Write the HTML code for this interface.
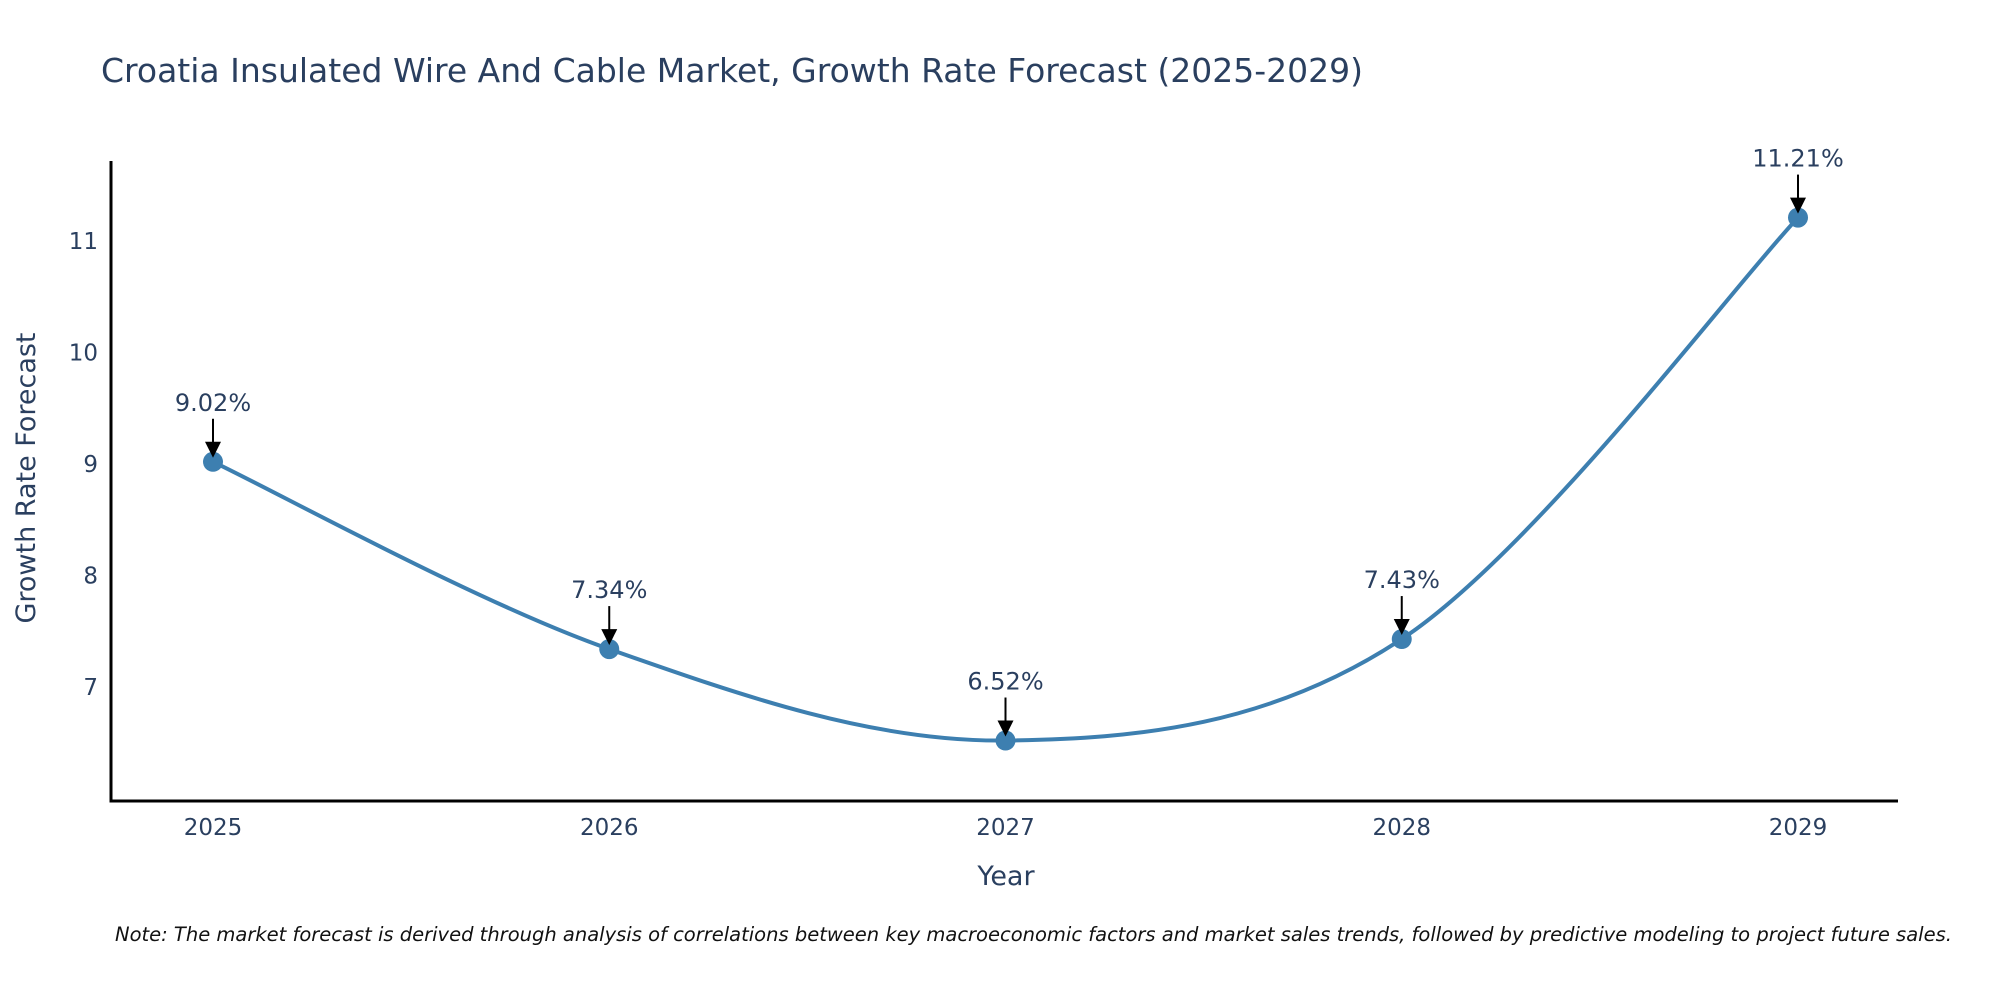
<!DOCTYPE html>
<html><head><meta charset="utf-8"><style>
html,body{margin:0;padding:0;background:#fff;}
svg{display:block;font-family:"DejaVu Sans","Liberation Sans",sans-serif;}
</style></head><body>
<svg id="chart" width="2000" height="1000" viewBox="0 0 2000 1000" xmlns="http://www.w3.org/2000/svg">
<text x="101" y="82" font-size="33" fill="#2a3f5f">Croatia Insulated Wire And Cable Market, Growth Rate Forecast (2025-2029)</text>
<g id="plot"></g>
<text x="1006" y="885" font-size="27" fill="#2a3f5f" text-anchor="middle">Year</text>
<text transform="translate(35,478) rotate(-90)" font-size="27" fill="#2a3f5f" text-anchor="middle">Growth Rate Forecast</text>
<text x="115" y="941" font-size="19.5" font-style="italic" fill="#111">Note: The market forecast is derived through analysis of correlations between key macroeconomic factors and market sales trends, followed by predictive modeling to project future sales.</text>
</svg>
<script>
const years = [2025, 2026, 2027, 2028, 2029];
const growth = [9.02, 7.34, 6.52, 7.43, 11.21];
const labels = ["9.02%", "7.34%", "6.52%", "7.43%", "11.21%"];
const yTicks = [7, 8, 9, 10, 11];

const NS = "http://www.w3.org/2000/svg";
const g = document.getElementById('plot');
function xs(v){ return 213 + (v - 2025) * 396.25; }
function ys(v){ return 687 - (v - 7) * 111.5; }
function mk(tag, attrs){ const e = document.createElementNS(NS, tag); for (const k in attrs) e.setAttribute(k, attrs[k]); g.appendChild(e); return e; }

let ax = mk('line', {x1:111, y1:801, x2:1898, y2:801, stroke:'#000', 'stroke-width':3});


let ay = mk('line', {x1:111, y1:161, x2:111, y2:802.5, stroke:'#000', 'stroke-width':3});



years.forEach(function(y){
  const t = mk('text', {x:xs(y), y:835, 'font-size':23, fill:'#2a3f5f', 'text-anchor':'middle'});
  t.textContent = y;
  
  
});
yTicks.forEach(function(v){
  const t = mk('text', {x:98, y:ys(v)+8, 'font-size':23, fill:'#2a3f5f', 'text-anchor':'end'});
  t.textContent = v;
  
  
});

const pts = years.map(function(y,i){ return [xs(y), ys(growth[i])]; });
let d = 'M' + pts[0][0] + ',' + pts[0][1];
const s = 1/6;
for (let i = 0; i < pts.length - 1; i++) {
  const p0 = pts[Math.max(i-1,0)], p1 = pts[i], p2 = pts[i+1], p3 = pts[Math.min(i+2,pts.length-1)];
  const c1 = [p1[0] + (p2[0]-p0[0])*s, p1[1] + (p2[1]-p0[1])*s];
  const c2 = [p2[0] - (p3[0]-p1[0])*s, p2[1] - (p3[1]-p1[1])*s];
  d += ' C' + c1[0] + ',' + c1[1] + ' ' + c2[0] + ',' + c2[1] + ' ' + p2[0] + ',' + p2[1];
}
const line = mk('path', {d:d, fill:'none', stroke:'#3d7fb0', 'stroke-width':4});



pts.forEach(function(p, i){
  const c = mk('circle', {cx:p[0], cy:p[1], r:10, fill:'#3d7fb0'});
  
  
  const a = mk('line', {x1:p[0], y1:p[1]-43, x2:p[0], y2:p[1]-18, stroke:'#000', 'stroke-width':2});
  
  
  const h = mk('polygon', {points:(p[0]-8)+','+(p[1]-20)+' '+(p[0]+8)+','+(p[1]-20)+' '+p[0]+','+(p[1]-4), fill:'#000'});
  
  
  const t = mk('text', {x:p[0], y:p[1]-51, 'font-size':24, fill:'#2a3f5f', 'text-anchor':'middle'});
  t.textContent = labels[i];
  
  
});
</script>
</body></html>
